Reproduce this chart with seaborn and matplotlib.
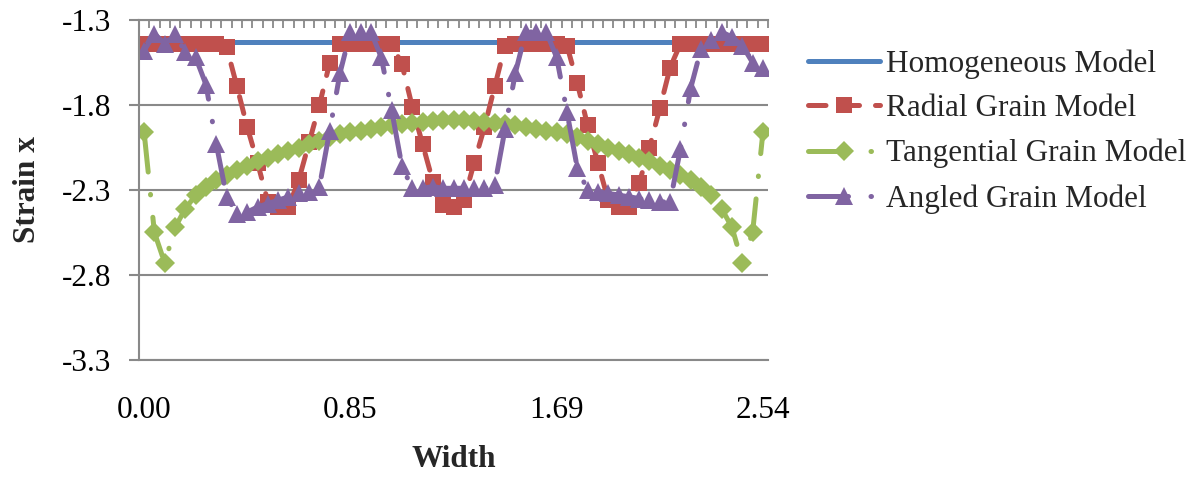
import numpy as np
import matplotlib
matplotlib.use("Agg")
import matplotlib.pyplot as plt
import seaborn as sns

# 61 categories between 0 and 2.54 (Excel category axis)
width = np.linspace(0, 2.54, 61)
x_tick_idx = [0, 20, 40, 60]
x_tick_labels = ["0.00", "0.85", "1.69", "2.54"]
y_ticks = [-3.3, -2.8, -2.3, -1.8, -1.3]

homogeneous = [-1.43] * 61

radial = [-1.44, -1.44, -1.44, -1.44, -1.44, -1.44, -1.44, -1.44, -1.46, -1.69,
          -1.93, -2.14, -2.37, -2.40, -2.40, -2.24, -2.02, -1.80, -1.55, -1.44,
          -1.44, -1.44, -1.44, -1.44, -1.44, -1.56, -1.81, -2.03, -2.25, -2.39,
          -2.40, -2.36, -2.14, -1.93, -1.69, -1.45, -1.44, -1.44, -1.44, -1.44,
          -1.44, -1.45, -1.67, -1.92, -2.14, -2.36, -2.40, -2.40, -2.26, -2.05,
          -1.82, -1.58, -1.44, -1.44, -1.44, -1.44, -1.44, -1.44, -1.44, -1.44,
          -1.44]

tangential = [-1.96, -2.55, -2.73, -2.52, -2.41, -2.33, -2.28, -2.24, -2.21, -2.18,
              -2.16, -2.13, -2.11, -2.09, -2.07, -2.05, -2.03, -2.01, -1.99, -1.97,
              -1.96, -1.95, -1.94, -1.93, -1.92, -1.91, -1.905, -1.90, -1.895, -1.89,
              -1.89,
              -1.89, -1.895, -1.90, -1.905, -1.91, -1.92, -1.93, -1.94, -1.95, -1.96,
              -1.97, -1.99, -2.01, -2.03, -2.05, -2.07, -2.09, -2.11, -2.13, -2.16,
              -2.18, -2.21, -2.24, -2.28, -2.33, -2.41, -2.52, -2.73, -2.55, -1.96]

angled = [-1.48, -1.38, -1.44, -1.38, -1.49, -1.52, -1.68, -2.03, -2.34, -2.44,
          -2.43, -2.40, -2.38, -2.36, -2.34, -2.32, -2.31, -2.28, -1.95, -1.61,
          -1.37, -1.37, -1.37, -1.52, -1.83, -2.16, -2.29, -2.29, -2.28, -2.29,
          -2.29, -2.29, -2.29, -2.29, -2.27, -1.94, -1.61, -1.37, -1.37, -1.37,
          -1.52, -1.84, -2.17, -2.30, -2.31, -2.32, -2.33, -2.34, -2.35, -2.36,
          -2.37, -2.37, -2.06, -1.70, -1.47, -1.42, -1.37, -1.40, -1.45, -1.55,
          -1.58]

names = ["Homogeneous Model", "Radial Grain Model",
         "Tangential Grain Model", "Angled Grain Model"]
values = [homogeneous, radial, tangential, angled]

# 스타일
colors = ["#4F81BD", "#C0504D", "#9BBB59", "#8064A2"]
markers = [None, "s", "D", "^"]
msizes = [0, 11.5, 10, 13]
dash_styles = [None, (3.5, 3.2), (8, 4.5, 0.1, 4.5), (8, 4.5, 0.1, 4.5)]
lw = 3.6
grey = "#898989"

sns.set_theme(style="white")
plt.rcParams["font.family"] = ["Liberation Serif", "DejaVu Serif"]
plt.rcParams["axes.unicode_minus"] = False

fig, ax = plt.subplots(figsize=(12.02, 4.78), dpi=100)
fig.subplots_adjust(left=0.1156, right=0.639, bottom=0.247, top=0.958)

for name, vals, c, m, ms, ds in zip(names, values, colors, markers, msizes, dash_styles):
    sns.lineplot(x=width, y=vals, color=c, marker=m, markersize=ms,
                 markeredgewidth=0, linewidth=lw, label=name, ax=ax,
                 estimator=None, sort=False)
    line = ax.lines[-1]
    line.set_solid_capstyle("round")
    line.set_dash_capstyle("round")
    if ds is not None:
        line.set_dashes(ds)

dx = width[1] - width[0]
ax.set_xlim(width[0] - dx / 2, width[-1] + dx / 2)
ax.set_ylim(-3.3, -1.3)

ax.set_xticks(width[x_tick_idx])
ax.set_xticklabels(x_tick_labels)
ax.set_xticks(np.append(width - dx / 2, width[-1] + dx / 2), minor=True)
ax.set_yticks(y_ticks)
ax.set_yticklabels([f"{v:.1f}" for v in y_ticks])

ax.tick_params(axis="x", which="major", bottom=True, top=False, length=0,
               pad=26, labelsize=22.5, colors="black")
ax.tick_params(axis="x", which="minor", bottom=False, top=True,
               direction="in", length=6, width=1.3, color=grey)
ax.tick_params(axis="y", which="major", left=True, length=7.2, width=1.5,
               color=grey, pad=13, labelsize=22.5, labelcolor="black")

ax.grid(axis="y", color=grey, linewidth=1.5)
ax.grid(axis="x", visible=False)
for side in ["left", "top", "bottom"]:
    ax.spines[side].set_color(grey)
    ax.spines[side].set_linewidth(1.5)
ax.spines["right"].set_visible(False)

ax.set_xlabel("Width", fontsize=22.5, fontweight="bold")
ax.set_ylabel("Strain x", fontsize=22.5, fontweight="bold")
ax.xaxis.set_label_coords(0.5, -0.25)
ax.yaxis.set_label_coords(-0.154, 0.5)

ax.legend(loc="upper left", bbox_to_anchor=(0.672, 0.897),
          bbox_transform=fig.transFigure, frameon=False, fontsize=22.5,
          borderpad=0, borderaxespad=0, handlelength=2.3,
          handletextpad=0.22, labelspacing=0.5, numpoints=1)

fig.savefig("out.png", dpi=100)
